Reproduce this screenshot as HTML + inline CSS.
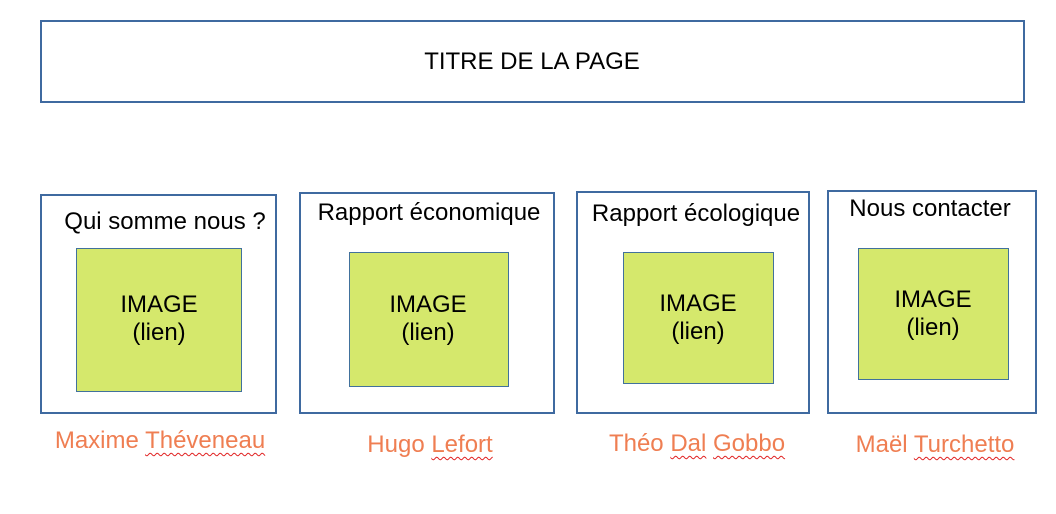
<!DOCTYPE html>
<html><head><meta charset="utf-8"><style>
html,body{margin:0;padding:0;background:#fff;width:1056px;height:514px;overflow:hidden;position:relative;font-family:"Liberation Sans",sans-serif;}
.b{position:absolute;border:2px solid #3f6aa0;box-sizing:border-box;background:#fff;}
.g{position:absolute;border:1px solid #41719c;box-sizing:border-box;background:#d5e86c;}
.t{position:absolute;white-space:nowrap;transform:translate(-50%,-50%);font-size:24px;color:#000;line-height:1;text-align:center;}
.n{color:#ef7e52;}
.w{text-decoration:underline wavy #e02020;text-decoration-thickness:1px;text-underline-offset:4px;}
</style></head><body>
<div class="b" style="left:40px;top:20px;width:985px;height:83px"></div>
<div class="t" style="left:532px;top:62px">TITRE DE LA PAGE</div>

<div class="b" style="left:40px;top:194px;width:237px;height:220px"></div>
<div class="g" style="left:76px;top:248px;width:166px;height:144px"></div>
<div class="t" style="left:165px;top:222px">Qui somme nous ?</div>
<div class="t" style="left:159px;top:319px;line-height:28px">IMAGE<br>(lien)</div>
<div class="t n" style="left:160px;top:441px">Maxime <span class="w">Théveneau</span></div>

<div class="b" style="left:299px;top:192px;width:256px;height:222px"></div>
<div class="g" style="left:349px;top:252px;width:160px;height:135px"></div>
<div class="t" style="left:429px;top:213px">Rapport économique</div>
<div class="t" style="left:428px;top:319px;line-height:28px">IMAGE<br>(lien)</div>
<div class="t n" style="left:430px;top:445px">Hugo <span class="w">Lefort</span></div>

<div class="b" style="left:576px;top:191px;width:234px;height:223px"></div>
<div class="g" style="left:623px;top:252px;width:151px;height:132px"></div>
<div class="t" style="left:696px;top:214px">Rapport écologique</div>
<div class="t" style="left:698px;top:318px;line-height:28px">IMAGE<br>(lien)</div>
<div class="t n" style="left:697px;top:444px">Théo <span class="w">Dal</span> <span class="w">Gobbo</span></div>

<div class="b" style="left:827px;top:190px;width:210px;height:224px"></div>
<div class="g" style="left:858px;top:248px;width:151px;height:132px"></div>
<div class="t" style="left:930px;top:209px">Nous contacter</div>
<div class="t" style="left:933px;top:314px;line-height:28px">IMAGE<br>(lien)</div>
<div class="t n" style="left:935px;top:445px">Maël <span class="w">Turchetto</span></div>
</body></html>
